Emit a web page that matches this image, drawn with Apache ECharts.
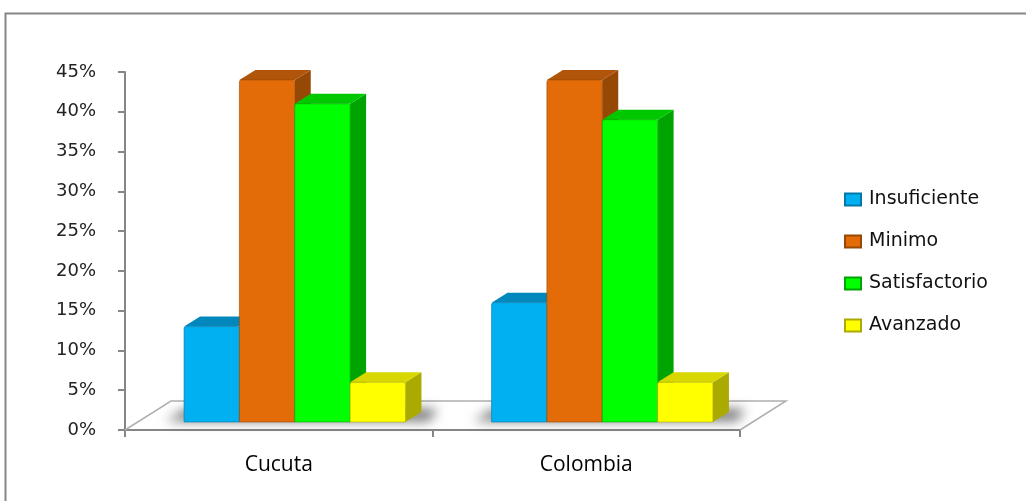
<!DOCTYPE html>
<html>
<head>
<meta charset="utf-8">
<script src="https://cdn.jsdelivr.net/npm/echarts@6/dist/echarts.min.js"></script>
<style>
html,body{margin:0;padding:0;background:#fff;}
#chart{width:1026px;height:501px;}
</style>
</head>
<body>
<div id="chart"></div>
<script>
// ---- data ----
const categories = ['Cucuta', 'Colombia'];
const levels = ['Insuficiente', 'Minimo', 'Satisfactorio', 'Avanzado'];
const insuficiente = [12, 15];
const minimo = [43, 43];
const satisfactorio = [40, 38];
const avanzado = [5, 5];
const yTicks = [0, 5, 10, 15, 20, 25, 30, 35, 40, 45];

const seriesValues = [insuficiente, minimo, satisfactorio, avanzado];
const palette = [
  {front: '#00B0F0', top: '#0088BC', side: '#0078A8'},
  {front: '#E36C09', top: '#B0550A', side: '#964805'},
  {front: '#00FF00', top: '#00C800', side: '#00A400'},
  {front: '#FFFF00', top: '#D8D800', side: '#AAAA00'}
];

const chart = echarts.init(document.getElementById('chart'));

const BAR_FRAC = 0.18;   // bar width relative to category band
const SHIFT_X = 16;      // bars sit part-way into the floor depth
const SHIFT_Y = 8;
const DX = 16, DY = 10;  // bar depth
const FDX = 46, FDY = 29; // floor depth
const FAR = 3000;        // draw shadow casters off-canvas, keep only their blur

function barRender(level) {
  return function (params, api) {
    const ci = api.value(0), v = api.value(1);
    const base = api.coord([ci, 0]);
    const top = api.coord([ci, v]);
    const band = api.size([1, 0])[0];
    const bw = band * BAR_FRAC;
    const x0 = base[0] + SHIFT_X - bw * 2 + level * bw;
    const yb = base[1] - SHIFT_Y;
    const yt = top[1] - SHIFT_Y;
    const c = palette[level];
    return {
      type: 'group',
      children: [
        {type: 'polygon', shape: {points: [[x0 + bw, yt], [x0 + bw + DX, yt - DY], [x0 + bw + DX, yb - DY], [x0 + bw, yb]]},
          style: {fill: c.side}},
        {type: 'polygon', shape: {points: [[x0, yt], [x0 + bw, yt], [x0 + bw + DX, yt - DY], [x0 + DX, yt - DY]]},
          style: {fill: c.top}},
        {type: 'rect', shape: {x: x0, y: yt, width: bw, height: yb - yt, r: [2, 2, 0, 0]},
          style: {fill: c.front, stroke: c.side, lineWidth: 0.6}}
      ]
    };
  };
}

function floorRender(params, api) {
  const b0 = api.coord([0, 0]);
  const b1 = api.coord([categories.length - 1, 0]);
  const band = api.size([1, 0])[0];
  const xl = b0[0] - band / 2, xr = b1[0] + band / 2, y = b0[1];
  const children = [
    {type: 'polyline', shape: {points: [[xl, y], [xl + FDX, y - FDY], [xr + FDX, y - FDY], [xr, y]]},
      style: {stroke: '#B0B0B0', lineWidth: 1.5, fill: null}}
  ];
  categories.forEach(function (cat, ci) {
    const c = api.coord([ci, 0]);
    const bw = band * BAR_FRAC;
    const gl = c[0] + SHIFT_X - bw * 2;
    const gr = gl + bw * 4 + DX;
    const yb = c[1] - SHIFT_Y;
    children.push({type: 'polygon',
      shape: {points: [[gl - 18 - FAR, yb - 1], [gr + 8 - FAR, yb - 1], [gr + 16 - FAR, yb - DY - 3], [gl + 2 - FAR, yb - DY - 3]]},
      style: {fill: '#000', shadowBlur: 12, shadowColor: 'rgba(0,0,0,0.55)', shadowOffsetX: FAR, shadowOffsetY: 0}});
  });
  return {type: 'group', children: children};
}

const series = [{
  type: 'custom', name: 'floor', silent: true,
  data: [[0, 0]],
  renderItem: floorRender
}];
levels.forEach(function (name, i) {
  series.push({
    type: 'custom',
    name: name,
    itemStyle: {color: palette[i].front, borderColor: palette[i].side, borderWidth: 1},
    data: categories.map(function (c, ci) { return [ci, seriesValues[i][ci]]; }),
    encode: {x: 0, y: 1},
    renderItem: barRender(i)
  });
});

chart.setOption({
  animation: false,
  backgroundColor: '#fff',
  graphic: [{
    type: 'rect', left: 3, top: 11, shape: {width: 1100, height: 600},
    style: {fill: null, stroke: '#868686', lineWidth: 2}, silent: true
  }],
  grid: {left: 125, right: 286, top: 72, bottom: 71},
  legend: {
    orient: 'vertical', left: 844, top: 190, padding: 0,
    data: levels, icon: 'rect', itemWidth: 16, itemHeight: 12, itemGap: 23,
    textStyle: {fontFamily: 'DejaVu Sans', fontSize: 19, color: '#111', lineHeight: 19, padding: [0, 0, 0, 3]}
  },
  xAxis: {
    type: 'category', data: categories,
    axisLine: {lineStyle: {color: '#868686', width: 2}},
    axisTick: {show: true, length: 7, lineStyle: {color: '#868686', width: 2}},
    axisLabel: {margin: 25, fontFamily: 'Open Sans', fontSize: 21, color: '#000'}
  },
  yAxis: {
    type: 'value', min: 0, max: 45, interval: 5,
    axisLine: {show: true, lineStyle: {color: '#868686', width: 2}},
    axisTick: {show: true, length: 7, lineStyle: {color: '#868686', width: 2}},
    splitLine: {show: false},
    axisLabel: {margin: 29, fontFamily: 'DejaVu Sans', fontSize: 18, color: '#222', padding: [4, 0, 0, 0],
      formatter: function (v) { return yTicks.indexOf(v) >= 0 ? v + '%' : ''; }}
  },
  series: series
});
</script>
</body>
</html>
